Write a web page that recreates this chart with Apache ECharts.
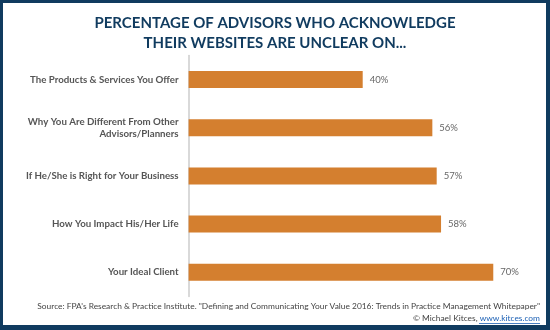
<!DOCTYPE html>
<html><head><meta charset="utf-8">
<script src="https://cdn.jsdelivr.net/npm/echarts@6/dist/echarts.min.js"></script>
<style>html,body{margin:0;padding:0;background:#fff}#c{width:550px;height:330px}</style>
</head><body><div id="c"></div>
<script>
var categories = [
  "The Products & Services You Offer",
  "Why You Are Different From Other\nAdvisors/Planners",
  "If He/She is Right for Your Business",
  "How You Impact His/Her Life",
  "Your Ideal Client"
];
var values = [40, 56, 57, 58, 70];
var titleLines = ["PERCENTAGE OF ADVISORS WHO ACKNOWLEDGE", "THEIR WEBSITES ARE UNCLEAR ON..."];
var sourceLine = "Source: FPA's Research & Practice Institute. \"Defining and Communicating Your Value 2016: Trends in Practice Management Whitepaper\"";
var creditText = "\u00a9 Michael Kitces, ";
var creditLink = "www.kitces.com";

var navy = "#103b5f";
var fam = "'Lato', sans-serif";
var chart = echarts.init(document.getElementById('c'), null, {renderer: 'canvas'});
chart.setOption({
  animation: false,
  backgroundColor: '#fff',
  grid: {left: 188.6, top: 55.4, width: 348.2, height: 241, containLabel: false},
  xAxis: {type: 'value', min: 0, max: 80, show: false},
  yAxis: {
    type: 'category', data: categories, inverse: true,
    axisLine: {show: true, lineStyle: {color: '#cccccc', width: 1.5}},
    axisTick: {show: false},
    axisLabel: {margin: 10, color: '#555555', fontWeight: 'bold', fontSize: 9.7, fontFamily: fam, lineHeight: 12, align: 'right'}
  },
  series: [{
    type: 'bar', data: values, barWidth: 17,
    itemStyle: {color: '#d47f2f'},
    label: {show: true, position: 'right', distance: 7, formatter: '{c}%', color: '#666666', fontSize: 9.5, fontFamily: fam}
  }],
  graphic: [
    {type: 'text', left: 'center', top: 13, style: {text: titleLines.join('\n'), fill: navy, font: "bold 15px " + fam, lineHeight: 20, textAlign: 'center'}},
    {type: 'text', right: 10, top: 302, style: {text: sourceLine, fill: '#444', font: "8.4px " + fam, textAlign: 'right'}},
    {type: 'text', right: 10, top: 314, style: {text: '{a|' + creditText + '}{b|' + creditLink + '}', rich: {a: {fill: '#444', font: "8.4px " + fam}, b: {fill: '#1a5fb4', font: "8.4px " + fam}}, textAlign: 'right'}},
    {type: 'line', shape: {x1: 479, y1: 323.5, x2: 540, y2: 323.5}, style: {stroke: '#1a5fb4', lineWidth: 0.8}},
    {type: 'rect', shape: {x: 0, y: 0, width: 550, height: 3}, style: {fill: navy}},
    {type: 'rect', shape: {x: 0, y: 0, width: 3, height: 330}, style: {fill: navy}},
    {type: 'rect', shape: {x: 546, y: 0, width: 4, height: 330}, style: {fill: navy}},
    {type: 'rect', shape: {x: 0, y: 325, width: 550, height: 5}, style: {fill: navy}}
  ]
});
</script></body></html>
